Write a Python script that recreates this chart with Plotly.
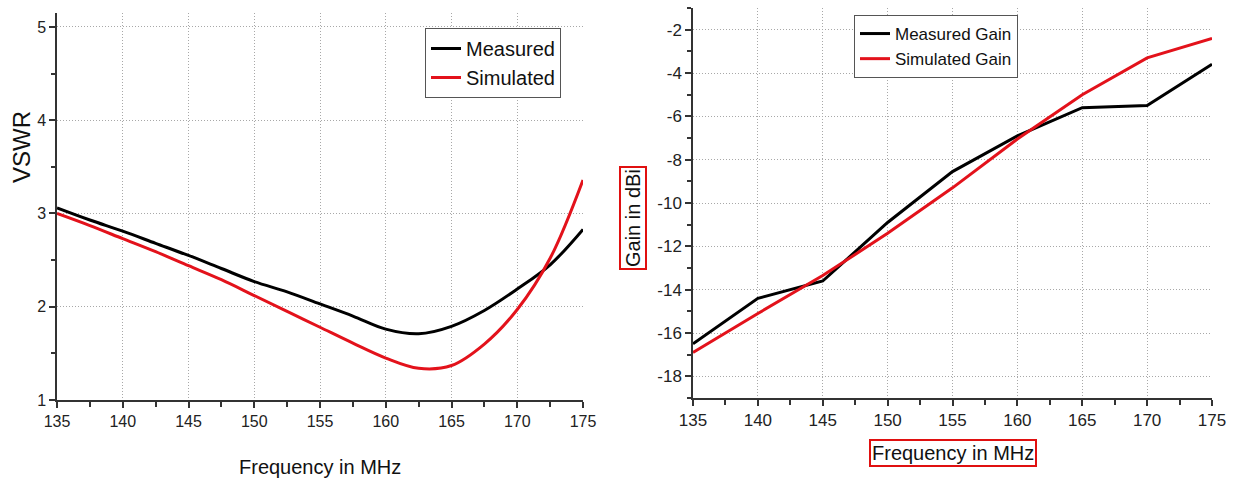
import plotly.graph_objects as go

# ---------------- data ----------------
vswr_freq = [135, 137.5, 140, 142.5, 145, 147.5, 150, 152.5, 155, 157.5,
             160, 162.5, 165, 167.5, 170, 172.5, 175]
vswr_measured = [3.06, 2.93, 2.81, 2.68, 2.55, 2.41, 2.27, 2.16, 2.03, 1.90,
                 1.76, 1.71, 1.79, 1.96, 2.19, 2.45, 2.83]
vswr_simulated = [3.00, 2.87, 2.73, 2.59, 2.44, 2.29, 2.12, 1.95, 1.78, 1.61,
                  1.45, 1.34, 1.37, 1.60, 1.97, 2.52, 3.36]

gain_freq = [135, 140, 145, 150, 155, 160, 165, 170, 175]
gain_measured = [-16.5, -14.4, -13.6, -10.9, -8.55, -6.9, -5.6, -5.5, -3.6]
gain_simulated = [-16.9, -15.1, -13.35, -11.4, -9.3, -7.05, -5.0, -3.3, -2.4]

freq_ticks = [135, 140, 145, 150, 155, 160, 165, 170, 175]
vswr_ticks = [1, 2, 3, 4, 5]
gain_ticks = [-2, -4, -6, -8, -10, -12, -14, -16, -18]
gain_ticktext = ["-2", "-4", "-6", "-8", "-10", "-12", "-14", "-16", "-18"]

W, H = 1234, 484
NARROW = "Liberation Sans Narrow, Arial Narrow, Liberation Sans, Arial"
ARIAL = "Liberation Sans, Arial"
RED = "#e3121b"
BLACK = "#000000"

fig = go.Figure()

fig.add_trace(go.Scatter(x=vswr_freq, y=vswr_measured, name="Measured",
                         mode="lines", line=dict(color=BLACK, width=3, shape="spline"),
                         xaxis="x", yaxis="y", legend="legend"))
fig.add_trace(go.Scatter(x=vswr_freq, y=vswr_simulated, name="Simulated",
                         mode="lines", line=dict(color=RED, width=3, shape="spline"),
                         xaxis="x", yaxis="y", legend="legend"))
fig.add_trace(go.Scatter(x=gain_freq, y=gain_measured, name="Measured Gain",
                         mode="lines", line=dict(color=BLACK, width=3),
                         xaxis="x2", yaxis="y2", legend="legend2"))
fig.add_trace(go.Scatter(x=gain_freq, y=gain_simulated, name="Simulated Gain",
                         mode="lines", line=dict(color=RED, width=3),
                         xaxis="x2", yaxis="y2", legend="legend2"))


def px_x(p):
    return p / W


def px_y(p):
    return 1 - p / H


common = dict(showline=True, linecolor="#333333", linewidth=1.5,
              ticks="outside", ticklen=6, tickwidth=1.5, tickcolor="#333333",
              showgrid=True, gridcolor="#a8a8a8", griddash="1px,2px", gridwidth=1,
              zeroline=False, automargin=False)

fig.update_layout(
    width=W, height=H,
    margin=dict(l=0, r=0, t=0, b=0),
    paper_bgcolor="white", plot_bgcolor="white",
    xaxis=dict(domain=[px_x(57), px_x(583)], anchor="y", range=[135, 175],
               tickvals=freq_ticks,
               minor=dict(dtick=2.5, ticks="outside", ticklen=5, tickwidth=1.5,
                          tickcolor="#333333", showgrid=False),
               tickfont=dict(family=NARROW, size=16, color="#222222"), **common),
    yaxis=dict(domain=[px_y(400), px_y(13)], anchor="x", range=[1, 5.15],
               tickvals=vswr_ticks,
               minor=dict(dtick=0.5, ticks="outside", ticklen=4, tickwidth=1.5,
                          tickcolor="#333333", showgrid=False),
               tickfont=dict(family=NARROW, size=16, color="#222222"), **common),
    xaxis2=dict(domain=[px_x(693), px_x(1212)], anchor="y2", range=[135, 175],
                tickvals=freq_ticks,
                minor=dict(dtick=2.5, ticks="outside", ticklen=5, tickwidth=1.5,
                           tickcolor="#333333", showgrid=False),
                tickfont=dict(family=ARIAL, size=17, color="#222222"), **common),
    yaxis2=dict(domain=[px_y(398), px_y(8)], anchor="x2", range=[-19, -1],
                tickvals=gain_ticks, ticktext=gain_ticktext,
                minor=dict(dtick=1, ticks="outside", ticklen=4, tickwidth=1.5,
                           tickcolor="#333333", showgrid=False),
                tickfont=dict(family=ARIAL, size=17, color="#222222"), **common),
    legend=dict(x=px_x(425), y=px_y(28), xanchor="left", yanchor="top",
                bgcolor="white", bordercolor="#555555", borderwidth=1,
                font=dict(family=NARROW, size=20, color="#111111"),
                tracegroupgap=0),
    legend2=dict(x=px_x(854), y=px_y(15), xanchor="left", yanchor="top",
                 bgcolor="white", bordercolor="#555555", borderwidth=1,
                 font=dict(family=ARIAL, size=17, color="#111111"),
                 tracegroupgap=0),
    showlegend=True,
)

fig.add_annotation(text="VSWR", x=px_x(22), y=px_y(147), xref="paper", yref="paper",
                   xanchor="center", yanchor="middle",
                   textangle=-90, showarrow=False,
                   font=dict(family=ARIAL, size=24, color="#111111"))
fig.add_annotation(text="Frequency in MHz", x=px_x(320), y=px_y(467),
                   xref="paper", yref="paper", showarrow=False,
                   xanchor="center", yanchor="middle",
                   font=dict(family=NARROW, size=20, color="#111111"))
fig.add_annotation(text="Gain in dBi", x=px_x(633), y=px_y(218), xref="paper", yref="paper",
                   xanchor="center", yanchor="middle",
                   textangle=-90, showarrow=False, bordercolor="#e01010", borderwidth=2,
                   borderpad=1,
                   font=dict(family=ARIAL, size=20, color="#111111"))
fig.add_annotation(text="Frequency in MHz", x=px_x(953), y=px_y(453),
                   xref="paper", yref="paper", showarrow=False,
                   xanchor="center", yanchor="middle",
                   bordercolor="#e01010", borderwidth=2, borderpad=1,
                   font=dict(family=ARIAL, size=20, color="#111111"))

fig.write_html("out.html", config={"displayModeBar": False},
               post_script="document.body.style.margin='0px';")
